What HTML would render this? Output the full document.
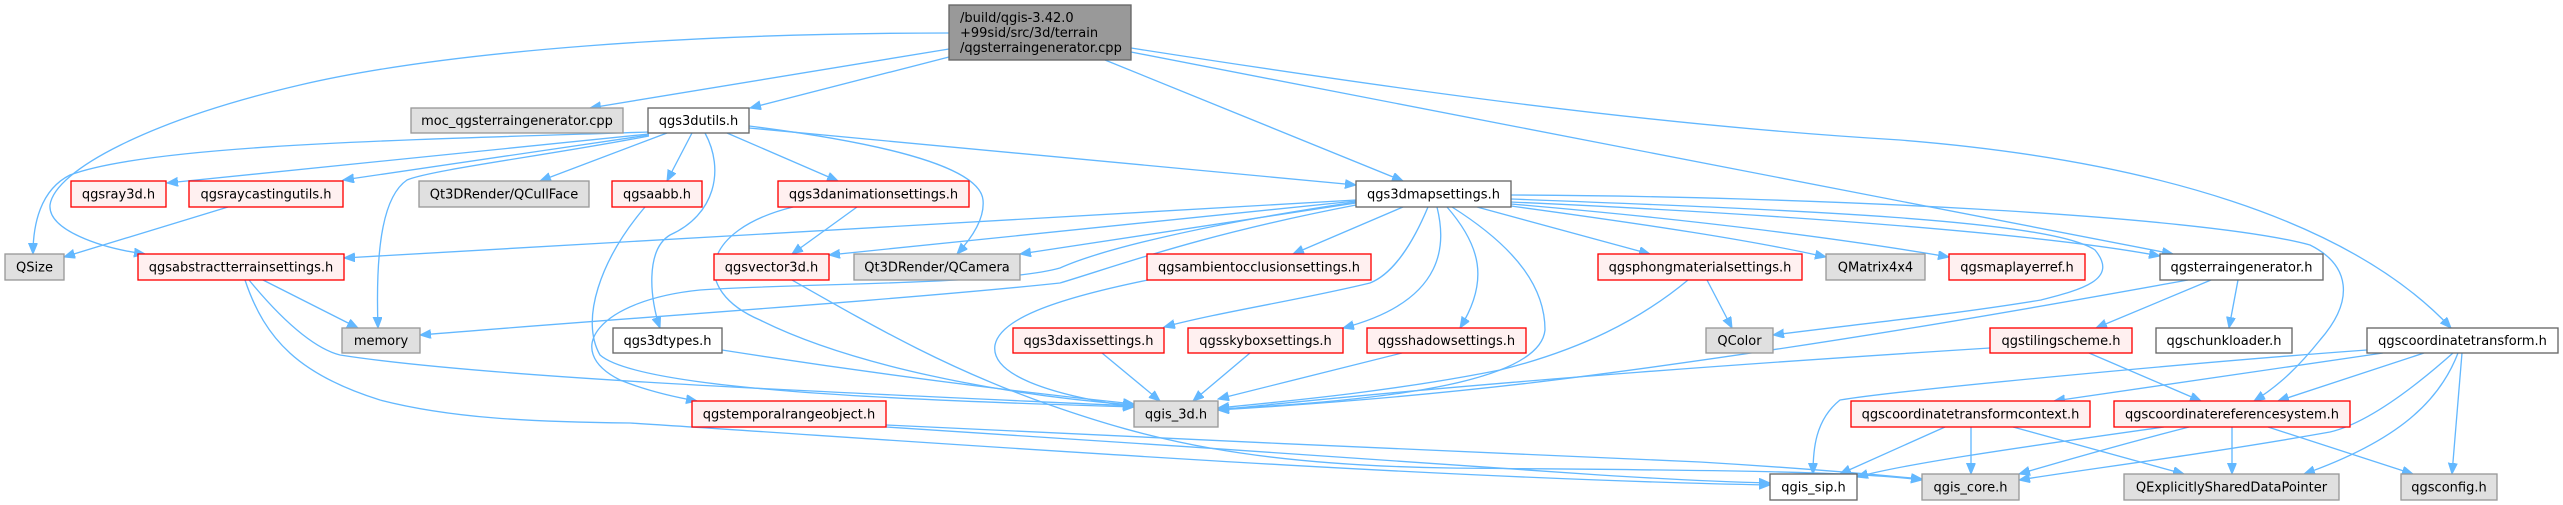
<!DOCTYPE html>
<html><head><meta charset="utf-8"><style>
html,body{margin:0;padding:0;background:#fff;}
svg{display:block;}
text{font-family:"DejaVu Sans","Liberation Sans",sans-serif;font-size:13px;fill:#000;}
.e{fill:none;stroke:#63b8ff;stroke-width:1.33;marker-end:url(#a);}
.w{fill:#fff;stroke:#666;stroke-width:1.33;}
.g{fill:#e0e0e0;stroke:#999;stroke-width:1.33;}
.r{fill:#fff0f0;stroke:#f00;stroke-width:1.33;}
.root{fill:#999;stroke:#666;stroke-width:1.33;}
</style></head><body>
<svg width="2563" height="505" viewBox="0 0 2563 505" xmlns="http://www.w3.org/2000/svg">
<defs><marker id="a" markerUnits="userSpaceOnUse" markerWidth="12" markerHeight="10" refX="11" refY="4.5" orient="auto"><path d="M0,0 L11,4.5 L0,9 z" fill="#63b8ff" stroke="#63b8ff" stroke-width="1"/></marker></defs>
<g>
<!-- root edges -->
<path class="e" d="M949,49 L590,108"/>
<path class="e" d="M949,57 L750,108"/>
<path class="e" d="M949,33 C700,33 450,50 300,85 C150,120 55,170 50,205 C48,230 100,248 145,254"/>
<path class="e" d="M1105,60 L1403,181"/>
<path class="e" d="M1131,52 L2173,254"/>
<path class="e" d="M1131,48 C1400,90 1650,125 1900,140 C2150,160 2350,220 2451,328"/>
<!-- qgs3dutils edges -->
<path class="e" d="M649,132 C400,140 150,145 70,175 C40,190 33,225 33,254"/>
<path class="e" d="M649,134 L167,183"/>
<path class="e" d="M649,135 L343,180"/>
<path class="e" d="M649,136 C550,155 430,170 407,180 C385,195 375,240 378,328"/>
<path class="e" d="M667,133 L540,181"/>
<path class="e" d="M692,133 L667,181"/>
<path class="e" d="M705,133 C725,170 715,215 670,235 C645,250 650,300 660,328"/>
<path class="e" d="M727,133 L838,181"/>
<path class="e" d="M749,126 C900,145 980,170 983,200 C985,220 970,240 957,254"/>
<path class="e" d="M749,128 L1356,185"/>
<!-- misc left -->
<path class="e" d="M228,207 L64,257"/>
<path class="e" d="M645,207 C600,260 580,320 600,355 C640,390 900,400 1134,407"/>
<path class="e" d="M857,207 L792,254"/>
<path class="e" d="M793,207 C700,230 690,290 760,320 C850,365 1000,395 1134,405"/>
<path class="e" d="M722,350 C850,370 1000,390 1134,404"/>
<path class="e" d="M792,280 C880,330 950,370 1050,405 C1150,440 1250,465 1450,468 C1650,470 1850,470 1922,480"/>
<path class="e" d="M886,425 C1100,437 1500,452 1700,462 C1800,468 1880,475 1922,479"/>
<path class="e" d="M886,427 C1100,440 1450,465 1600,475 C1680,480 1730,482 1770,483"/>
<path class="e" d="M245,280 C265,340 300,375 380,400 C450,418 530,422 630,423 C900,440 1400,478 1770,485"/>
<path class="e" d="M263,280 L358,328"/>
<path class="e" d="M249,280 C290,330 320,350 340,355 C500,380 900,395 1134,406"/>
<!-- qgs3dmapsettings edges -->
<path class="e" d="M1356,200 L344,258"/>
<path class="e" d="M1356,205 C1200,235 1120,265 1060,283 C900,300 600,320 420,335"/>
<path class="e" d="M1356,202 C1200,225 1100,250 1060,268 C1000,285 800,283 700,290 C600,300 560,350 620,380 C650,392 680,398 697,401"/>
<path class="e" d="M1356,201 L829,255"/>
<path class="e" d="M1356,203 L1020,254"/>
<path class="e" d="M1403,207 L1293,254"/>
<path class="e" d="M1428,207 C1410,250 1390,275 1370,283 C1300,300 1220,312 1164,327"/>
<path class="e" d="M1437,207 C1445,240 1450,300 1343,328"/>
<path class="e" d="M1447,207 C1480,245 1490,280 1460,328"/>
<path class="e" d="M1452,207 C1520,250 1545,290 1545,330 C1540,380 1400,400 1218,409"/>
<path class="e" d="M1477,207 L1650,254"/>
<path class="e" d="M1511,206 C1650,225 1750,240 1826,257"/>
<path class="e" d="M1511,204 C1700,220 1850,240 1949,257"/>
<path class="e" d="M1511,202 C1800,215 2050,235 2160,256"/>
<path class="e" d="M1511,199 C1800,210 2050,220 2095,250 C2120,280 2080,290 2041,300 C1950,315 1850,325 1773,335"/>
<path class="e" d="M1511,195 C1800,196 2200,215 2310,245 C2350,265 2355,300 2320,340 C2300,365 2280,385 2254,401"/>
<!-- middle -->
<path class="e" d="M1148,280 C1050,300 1000,320 995,345 C990,375 1050,395 1134,407"/>
<path class="e" d="M1102,353 L1160,401"/>
<path class="e" d="M1250,353 L1193,401"/>
<path class="e" d="M1402,353 L1218,399"/>
<path class="e" d="M1707,280 L1732,328"/>
<path class="e" d="M1688,280 C1640,320 1580,350 1500,370 C1400,390 1300,400 1218,408"/>
<path class="e" d="M2188,280 C2050,305 1800,350 1530,383 C1400,398 1300,405 1218,410"/>
<path class="e" d="M2211,280 L2096,328"/>
<path class="e" d="M2238,280 L2229,328"/>
<path class="e" d="M1990,348 C1800,360 1500,380 1218,410"/>
<path class="e" d="M2089,353 L2201,401"/>
<!-- coordinate transform -->
<path class="e" d="M2367,350 C2200,362 1900,390 1840,400 C1815,420 1813,450 1813,474"/>
<path class="e" d="M2383,353 L2054,401"/>
<path class="e" d="M2424,353 L2278,401"/>
<path class="e" d="M2453,353 C2400,400 2360,425 2330,432 C2200,455 2080,470 2019,480"/>
<path class="e" d="M2458,353 C2440,400 2400,440 2304,474"/>
<path class="e" d="M2462,353 L2452,474"/>
<path class="e" d="M2232,427 L2232,474"/>
<path class="e" d="M2268,427 L2413,474"/>
<path class="e" d="M2164,427 C2000,450 1900,465 1857,477"/>
<path class="e" d="M2189,427 C2100,450 2050,465 2019,474"/>
<path class="e" d="M1945,427 L1840,474"/>
<path class="e" d="M1971,427 L1971,474"/>
<path class="e" d="M2013,427 L2184,474"/>
</g>
<g>
<rect class="root" x="949" y="5" width="182" height="55"/>
<text x="960" y="22">/build/qgis-3.42.0</text>
<text x="960" y="37">+99sid/src/3d/terrain</text>
<text x="960" y="52">/qgsterraingenerator.cpp</text>

<rect class="g" x="411" y="108" width="212" height="25"/><text x="517" y="125" text-anchor="middle">moc_qgsterraingenerator.cpp</text>
<rect class="w" x="648" y="108" width="101" height="25"/><text x="698.5" y="125" text-anchor="middle">qgs3dutils.h</text>

<rect class="r" x="71" y="181" width="95" height="26"/><text x="118.5" y="198.5" text-anchor="middle">qgsray3d.h</text>
<rect class="r" x="189" y="181" width="154" height="26"/><text x="266" y="198.5" text-anchor="middle">qgsraycastingutils.h</text>
<rect class="g" x="419" y="181" width="170" height="26"/><text x="504" y="198.5" text-anchor="middle">Qt3DRender/QCullFace</text>
<rect class="r" x="612" y="181" width="90" height="26"/><text x="657" y="198.5" text-anchor="middle">qgsaabb.h</text>
<rect class="r" x="778" y="181" width="191" height="26"/><text x="873.5" y="198.5" text-anchor="middle">qgs3danimationsettings.h</text>
<rect class="w" x="1356" y="181" width="155" height="26"/><text x="1433.5" y="198.5" text-anchor="middle">qgs3dmapsettings.h</text>

<rect class="g" x="5" y="254" width="59" height="26"/><text x="34.5" y="271.5" text-anchor="middle">QSize</text>
<rect class="r" x="138" y="254" width="206" height="26"/><text x="241" y="271.5" text-anchor="middle">qgsabstractterrainsettings.h</text>
<rect class="r" x="714" y="254" width="115" height="26"/><text x="771.5" y="271.5" text-anchor="middle">qgsvector3d.h</text>
<rect class="g" x="854" y="254" width="166" height="26"/><text x="937" y="271.5" text-anchor="middle">Qt3DRender/QCamera</text>
<rect class="r" x="1147" y="254" width="224" height="26"/><text x="1259" y="271.5" text-anchor="middle">qgsambientocclusionsettings.h</text>
<rect class="r" x="1598" y="254" width="204" height="26"/><text x="1700" y="271.5" text-anchor="middle">qgsphongmaterialsettings.h</text>
<rect class="g" x="1826" y="254" width="99" height="26"/><text x="1875.5" y="271.5" text-anchor="middle">QMatrix4x4</text>
<rect class="r" x="1949" y="254" width="136" height="26"/><text x="2017" y="271.5" text-anchor="middle">qgsmaplayerref.h</text>
<rect class="w" x="2160" y="254" width="163" height="26"/><text x="2241.5" y="271.5" text-anchor="middle">qgsterraingenerator.h</text>

<rect class="g" x="342" y="328" width="78" height="25"/><text x="381" y="345" text-anchor="middle">memory</text>
<rect class="w" x="613" y="328" width="109" height="25"/><text x="667.5" y="345" text-anchor="middle">qgs3dtypes.h</text>
<rect class="r" x="1013" y="328" width="151" height="25"/><text x="1088.5" y="345" text-anchor="middle">qgs3daxissettings.h</text>
<rect class="r" x="1188" y="328" width="155" height="25"/><text x="1265.5" y="345" text-anchor="middle">qgsskyboxsettings.h</text>
<rect class="r" x="1367" y="328" width="159" height="25"/><text x="1446.5" y="345" text-anchor="middle">qgsshadowsettings.h</text>
<rect class="g" x="1706" y="328" width="67" height="25"/><text x="1739.5" y="345" text-anchor="middle">QColor</text>
<rect class="r" x="1990" y="328" width="142" height="25"/><text x="2061" y="345" text-anchor="middle">qgstilingscheme.h</text>
<rect class="w" x="2156" y="328" width="136" height="25"/><text x="2224" y="345" text-anchor="middle">qgschunkloader.h</text>
<rect class="w" x="2367" y="328" width="191" height="25"/><text x="2462.5" y="345" text-anchor="middle">qgscoordinatetransform.h</text>

<rect class="r" x="692" y="401" width="194" height="26"/><text x="789" y="418.5" text-anchor="middle">qgstemporalrangeobject.h</text>
<rect class="g" x="1134" y="401" width="84" height="26"/><text x="1176" y="418.5" text-anchor="middle">qgis_3d.h</text>
<rect class="r" x="1851" y="401" width="239" height="26"/><text x="1970.5" y="418.5" text-anchor="middle">qgscoordinatetransformcontext.h</text>
<rect class="r" x="2114" y="401" width="236" height="26"/><text x="2232" y="418.5" text-anchor="middle">qgscoordinatereferencesystem.h</text>

<rect class="w" x="1770" y="474" width="87" height="26"/><text x="1813.5" y="491.5" text-anchor="middle">qgis_sip.h</text>
<rect class="g" x="1922" y="474" width="97" height="26"/><text x="1970.5" y="491.5" text-anchor="middle">qgis_core.h</text>
<rect class="g" x="2124" y="474" width="215" height="26"/><text x="2231.5" y="491.5" text-anchor="middle">QExplicitlySharedDataPointer</text>
<rect class="g" x="2401" y="474" width="96" height="26"/><text x="2449" y="491.5" text-anchor="middle">qgsconfig.h</text>
</g>
</svg>
</body></html>
